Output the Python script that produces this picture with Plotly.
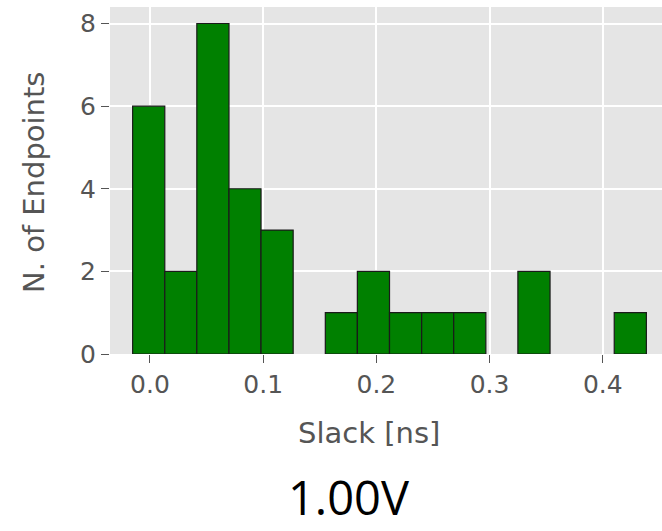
import plotly.graph_objects as go

# Histogram data
bin_edges = [-0.0153, 0.0131, 0.0414, 0.0698, 0.0981, 0.1265, 0.1549, 0.1832,
             0.2116, 0.2400, 0.2683, 0.2967, 0.3250, 0.3534, 0.3818, 0.4101, 0.4385]
counts = [6, 2, 8, 4, 3, 0, 1, 2, 1, 1, 1, 0, 2, 0, 0, 1]
x_ticks = [0.0, 0.1, 0.2, 0.3, 0.4]
x_tick_labels = ["0.0", "0.1", "0.2", "0.3", "0.4"]
y_ticks = [0, 2, 4, 6, 8]

centers = [(a + b) / 2 for a, b in zip(bin_edges[:-1], bin_edges[1:])]
widths = [b - a for a, b in zip(bin_edges[:-1], bin_edges[1:])]
xs = [c for c, n in zip(centers, counts) if n > 0]
ws = [w for w, n in zip(widths, counts) if n > 0]
ys = [n for n in counts if n > 0]

W, H = 662, 531
L, R, T, B = 110, 0, 7, 177
pw, ph = W - L - R, H - T - B

def px(x):
    return (x - L) / pw

def py(y):
    return (H - B - y) / ph

fig = go.Figure(go.Bar(
    x=xs, y=ys, width=ws,
    marker=dict(color="#008000", line=dict(color="#1a1a1a", width=1.2)),
    hoverinfo="x+y",
))

gray = "#555555"
fig.update_layout(
    width=W, height=H,
    margin=dict(l=L, r=R, t=T, b=B, pad=0),
    paper_bgcolor="white",
    plot_bgcolor="#E5E5E5",
    showlegend=False,
    font=dict(family="DejaVu Sans", color=gray),
    xaxis=dict(
        range=[-0.0353, 0.4523], tickvals=x_ticks, ticktext=x_tick_labels,
        showgrid=True, gridcolor="white", gridwidth=1.5, zeroline=False,
        ticks="outside", ticklen=8, tickwidth=1.2, tickcolor=gray,
        tickfont=dict(size=25, color=gray, family="DejaVu Sans"),
        showline=False, automargin=False,
    ),
    yaxis=dict(
        range=[0, 8.4], tickvals=y_ticks,
        showgrid=True, gridcolor="white", gridwidth=1.5, zeroline=False,
        ticks="outside", ticklen=8, tickwidth=1.2, tickcolor=gray,
        tickfont=dict(size=25, color=gray, family="DejaVu Sans"),
        showline=False, automargin=False,
    ),
    annotations=[
        dict(text="Slack [ns]", x=px(369), y=py(433), xref="paper", yref="paper",
             showarrow=False, xanchor="center", yanchor="middle",
             font=dict(size=29, color=gray, family="DejaVu Sans")),
        dict(text="N. of Endpoints", x=px(34), y=py(183), xref="paper", yref="paper",
             showarrow=False, xanchor="center", yanchor="middle", textangle=-90,
             font=dict(size=29, color=gray, family="DejaVu Sans")),
        dict(text="1.00V", x=px(349), y=py(531), xref="paper", yref="paper",
             showarrow=False, xanchor="center", yanchor="bottom",
             font=dict(size=47, color="black", family="Open Sans")),
    ],
)

fig.write_html("out.html", config={"displayModeBar": False},
               post_script="document.body.style.margin='0px';document.body.style.overflow='hidden';")
